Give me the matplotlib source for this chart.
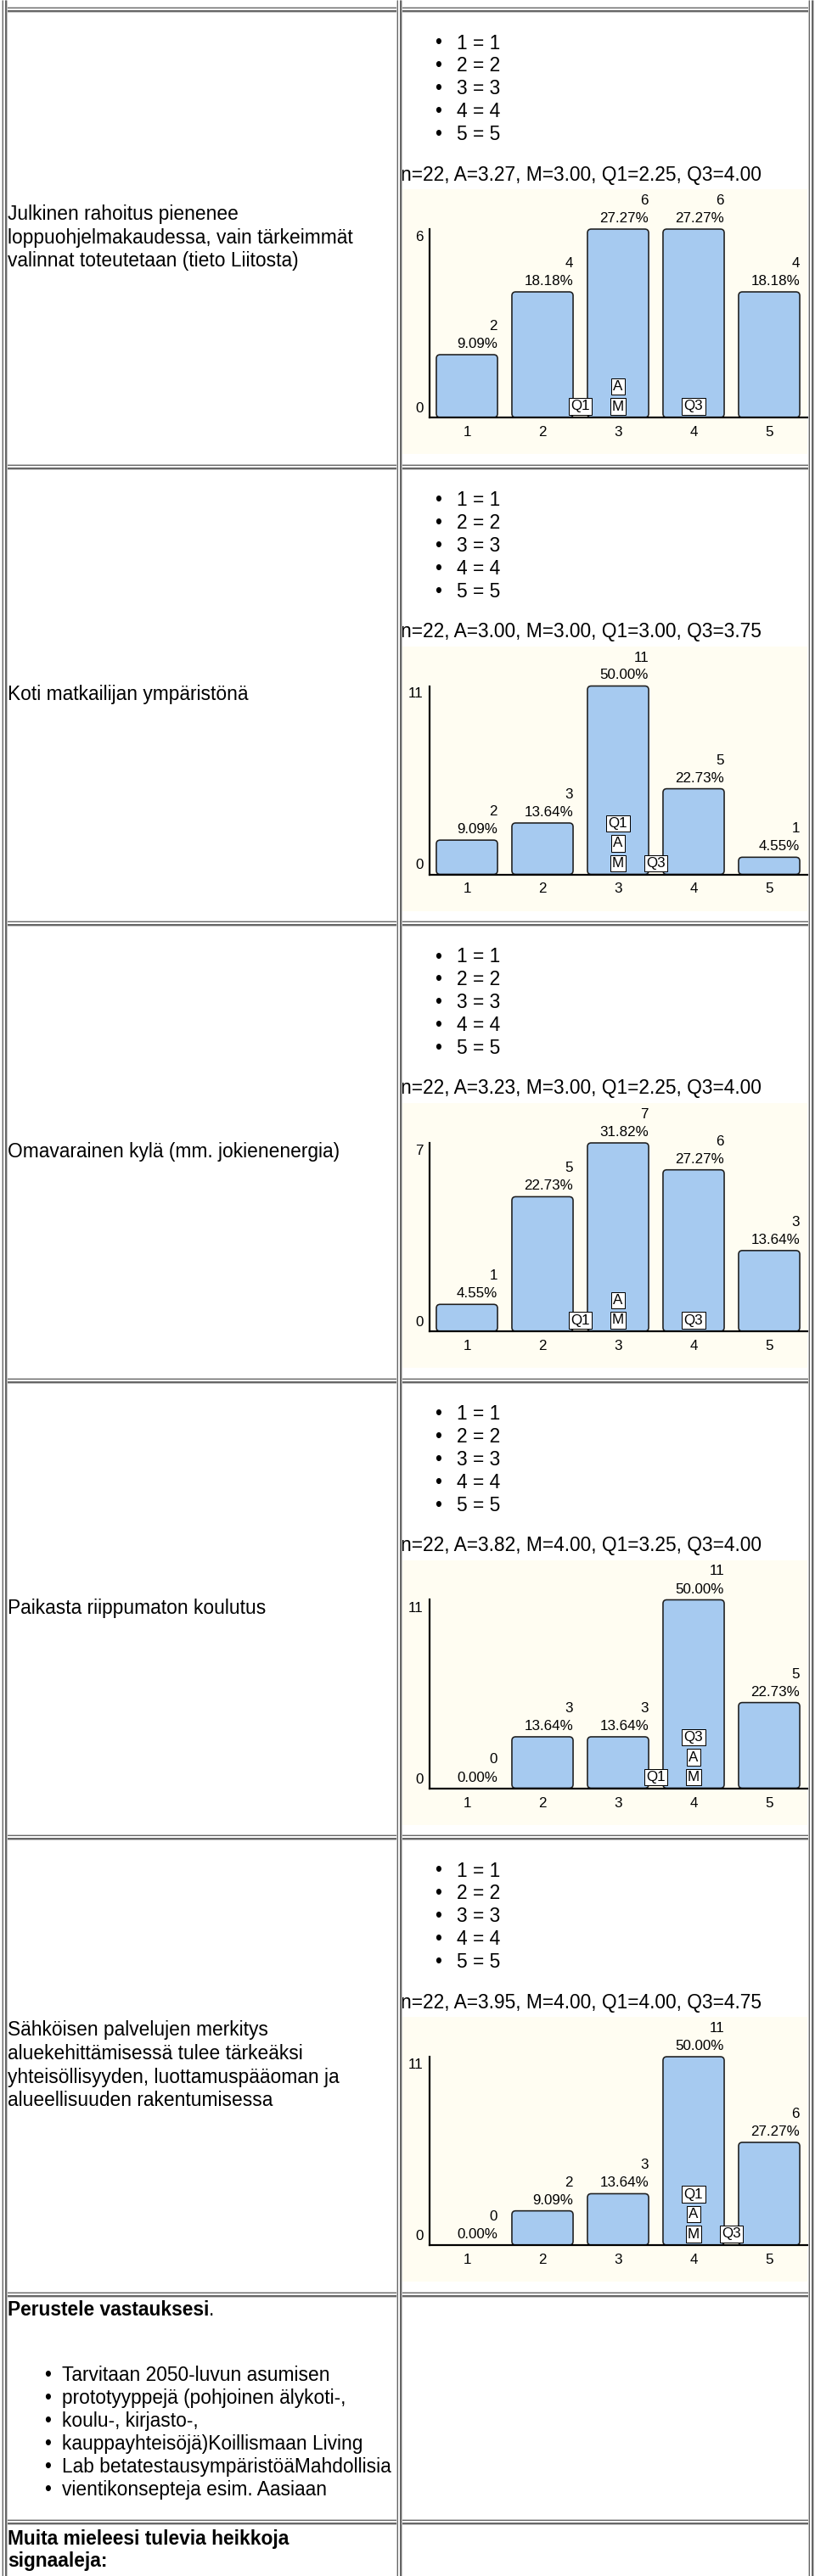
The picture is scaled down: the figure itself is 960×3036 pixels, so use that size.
import math
import matplotlib
matplotlib.use('Agg')
import matplotlib.pyplot as plt
from matplotlib.patches import Rectangle, FancyBboxPatch

# page size in pixels
W, H = 960, 3036
DPI = 100

# left column: the statements that were rated
questions = [
    "Julkinen rahoitus pienenee\nloppuohjelmakaudessa, vain tärkeimmät\nvalinnat toteutetaan (tieto Liitosta)",
    "Koti matkailijan ympäristönä",
    "Omavarainen kylä (mm. jokienenergia)",
    "Paikasta riippumaton koulutus",
    "Sähköisen palvelujen merkitys\naluekehittämisessä tulee tärkeäksi\nyhteisöllisyyden, luottamuspääoman ja\nalueellisuuden rakentumisessa",
]

# answer scale 1..5
scale = [1, 2, 3, 4, 5]

# answer counts for each statement
counts_1 = [2, 4, 6, 6, 4]
counts_2 = [2, 3, 11, 5, 1]
counts_3 = [1, 5, 7, 6, 3]
counts_4 = [0, 3, 3, 11, 5]
counts_5 = [0, 2, 3, 11, 6]
all_counts = [counts_1, counts_2, counts_3, counts_4, counts_5]

# summary statistics shown above each chart
n_resp = [22, 22, 22, 22, 22]
avg = [3.27, 3.00, 3.23, 3.82, 3.95]
median = [3.00, 3.00, 3.00, 4.00, 4.00]
q1 = [2.25, 3.00, 2.25, 3.25, 4.00]
q3 = [4.00, 3.75, 4.00, 4.00, 4.75]

# the open answer rows at the bottom
reason_title = "Perustele vastauksesi"
reason_lines = [
    "Tarvitaan 2050-luvun asumisen",
    "prototyyppejä (pohjoinen älykoti-,",
    "koulu-, kirjasto-,",
    "kauppayhteisöjä)Koillismaan Living",
    "Lab betatestausympäristöäMahdollisia",
    "vientikonsepteja esim. Aasiaan",
]
other_title = ["Muita mieleesi tulevia heikkoja", "signaaleja:"]


def pt(px):
    # pixels -> points at our dpi
    return px * 72.0 / DPI


plt.rcParams['font.family'] = ['Liberation Sans', 'DejaVu Sans']
PAGE_FS = pt(22.8)
CHART_FS = pt(17)

fig = plt.figure(figsize=(W / DPI, H / DPI), dpi=DPI)
page = fig.add_axes([0, 0, 1, 1])
page.set_xlim(0, W)
page.set_ylim(H, 0)
page.axis('off')


def border(x0, y0, x1, y1):
    # html table style double line: grey / white / grey
    for lw, c in [(7, '#c4c4c4'), (5, '#666666'), (2, 'white')]:
        page.plot([x0, x1], [y0, y1], color=c, lw=pt(lw),
                  solid_capstyle='butt', zorder=5)


def marker_pos(v):
    # the chart puts fractional values half way between the categories
    if float(v).is_integer():
        return v
    return math.floor(v) + 0.5


row_h = 538.5
row_tops = [11 + i * row_h for i in range(5)]

for i, top in enumerate(row_tops):
    counts = all_counts[i]
    n = n_resp[i]

    # left column statement, vertically centred
    lines = questions[i].split('\n')
    mid = top + row_h / 2
    for k, line in enumerate(lines):
        y = mid + (k - (len(lines) - 1) / 2) * 27.5
        page.text(9, y, line, fontsize=PAGE_FS, va='center', ha='left')

    # list of scale values
    for k, v in enumerate(scale):
        y = top + 40 + 26.9 * k
        page.text(512, y, '•', fontsize=PAGE_FS, va='center', ha='left')
        page.text(538, y, f"{v} = {v}", fontsize=PAGE_FS, va='center', ha='left')

    stats = f"n={n}, A={avg[i]:.2f}, M={median[i]:.2f}, Q1={q1[i]:.2f}, Q3={q3[i]:.2f}"
    page.text(472, top + 195, stats, fontsize=PAGE_FS, va='center', ha='left')

    # pale chart image background
    page.add_patch(Rectangle((473, top + 212), 478, 312, facecolor='#fffdf2',
                             edgecolor='none', zorder=0))

    # bar chart
    left, right = 505.5, 950.5
    ax_top, ax_bot = top + 259, top + 481
    ax = fig.add_axes([left / W, 1 - ax_bot / H, (right - left) / W, (ax_bot - ax_top) / H])
    ax.set_facecolor('none')
    ax.set_xlim(0.5, 5.5)
    ax.set_ylim(0, max(counts))
    bars = ax.bar(scale, counts, width=0.81, color='#a6caf0',
                  edgecolor='#1e1e1e', linewidth=pt(1.6), zorder=2)

    # swap the plain rectangles for rounded ones like the original image
    px_x = (right - left) / 5.0          # pixels per x unit
    px_y = (ax_bot - ax_top) / max(counts)  # pixels per y unit
    for b in bars:
        b.set_visible(False)
        if b.get_height() <= 0:
            continue
        fb = FancyBboxPatch((b.get_x(), b.get_y()), b.get_width(), b.get_height(),
                            boxstyle=f"round,pad=0,rounding_size={4.5 / px_x}",
                            mutation_aspect=px_x / px_y,
                            facecolor='#a6caf0', edgecolor='#1e1e1e',
                            linewidth=pt(1.6), clip_on=False, zorder=2)
        ax.add_patch(fb)

    for s in ['top', 'right']:
        ax.spines[s].set_visible(False)
    for s in ['left', 'bottom']:
        ax.spines[s].set_linewidth(pt(2.2))
        ax.spines[s].set_color('black')
        ax.spines[s].set_zorder(3)
    ax.set_xticks(scale)
    ax.set_xticklabels([str(s) for s in scale], fontsize=CHART_FS)
    ax.tick_params(axis='x', length=0, pad=pt(10))
    ax.set_yticks([])

    # y labels: 0 and the max
    ytr = ax.get_yaxis_transform()
    ax.annotate(str(max(counts)), xy=(0, max(counts)), xycoords=ytr,
                xytext=(-7, -2), textcoords='offset pixels',
                ha='right', va='top', fontsize=CHART_FS)
    ax.annotate('0', xy=(0, 0), xycoords=ytr, xytext=(-7, 3),
                textcoords='offset pixels', ha='right', va='bottom', fontsize=CHART_FS)

    # count and percent over each bar, right aligned to the bar edge
    for x, c in zip(scale, counts):
        ax.annotate(f"{c / n * 100:.2f}%", xy=(x + 0.405, c), xytext=(0, 5),
                    textcoords='offset pixels', ha='right', va='bottom',
                    fontsize=CHART_FS)
        ax.annotate(f"{c}", xy=(x + 0.405, c), xytext=(0, 26),
                    textcoords='offset pixels', ha='right', va='bottom',
                    fontsize=CHART_FS)

    # M / A / Q1 / Q3 markers stacked on the axis
    marks = [('M', marker_pos(median[i])), ('A', round(avg[i])),
             ('Q1', marker_pos(q1[i])), ('Q3', marker_pos(q3[i]))]
    used = {}
    for lab, pos in marks:
        slot = used.get(pos, 0)
        used[pos] = slot + 1
        ax.annotate(lab, xy=(pos, 0), xytext=(0, 13 + 23.5 * slot),
                    textcoords='offset pixels', ha='center', va='center',
                    fontsize=CHART_FS, zorder=4,
                    bbox=dict(boxstyle='square,pad=0.13', fc='white',
                              ec='black', lw=pt(1)))

# open answer row
r_top = row_tops[-1] + row_h
t = page.text(9, r_top + 19, reason_title, fontsize=PAGE_FS, fontweight='bold',
              va='center', ha='left')
renderer = fig.canvas.get_renderer()
bb = t.get_window_extent(renderer=renderer)
page.text(9 + bb.width, r_top + 19, '.', fontsize=PAGE_FS, va='center', ha='left')
for k, line in enumerate(reason_lines):
    y = r_top + 96 + 27 * k
    page.text(52, y, '•', fontsize=PAGE_FS, va='center', ha='left')
    page.text(73, y, line, fontsize=PAGE_FS, va='center', ha='left')

o_top = 2972
for k, line in enumerate(other_title):
    page.text(9, o_top + 21 + 26 * k, line, fontsize=PAGE_FS, fontweight='bold',
              va='center', ha='left')

# table borders
h_lines = row_tops + [r_top, o_top]
for y in h_lines:
    border(5, y, 955, y)
for x in [5, 470, 955]:
    border(x, 0, x, H)

fig.savefig('out.png', dpi=DPI, facecolor='white')
